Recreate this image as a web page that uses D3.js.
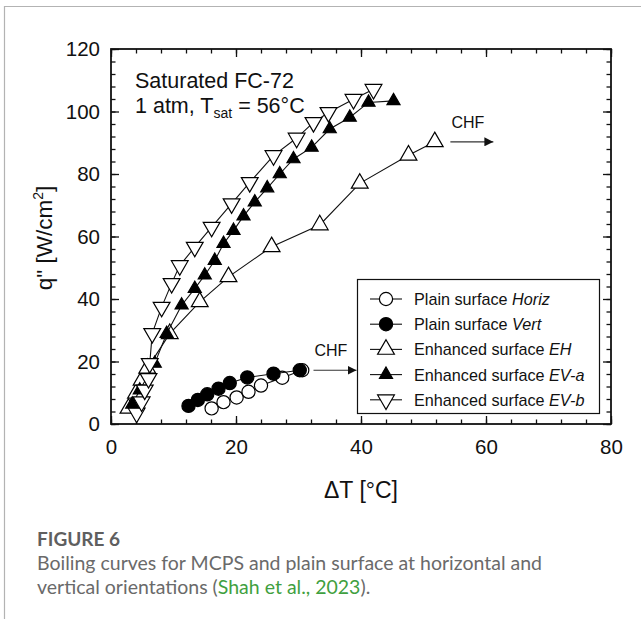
<!DOCTYPE html>
<html lang="en">
<head>
  <meta charset="UTF-8">
  <title>Boiling curves</title>
  <script src="https://cdn.jsdelivr.net/npm/d3@7"></script>
  <style type="text/css">
    body {
        margin: 0;
        padding: 0;
        background: #fff;
        overflow: hidden;
    }
    svg text { font-family: "Liberation Sans", Arial, sans-serif; }
    .caption text { font-family: Lato, "Open Sans", sans-serif; }
  </style>
</head>
<body>
<div id="chart"></div>
<script>
// data: [deltaT, q'']
var plainHoriz = [[16.1,5.0],[18.0,7.0],[20.1,8.5],[22.0,10.3],[24.0,12.3],[27.4,14.8],[30.6,17.2]];
var plainVert  = [[12.4,5.8],[13.9,7.7],[15.4,9.5],[17.2,11.3],[19.0,13.1],[21.8,14.9],[26.0,16.1],[30.2,17.2]];
var enhEH   = [[2.8,5.0],[4.0,9.8],[4.9,14.0],[5.8,17.8],[9.4,28.9],[14.2,39.1],[18.8,47.1],[25.7,56.7],[33.4,63.7],[39.8,77.0],[47.6,86.0],[51.8,90.3]];
var enhEVa  = [[3.4,6.3],[4.6,10.8],[7.0,19.4],[8.9,28.9],[11.3,38.0],[13.4,43.3],[15.0,47.6],[16.6,52.3],[18.0,57.7],[19.6,61.9],[21.2,66.5],[23.0,71.0],[25.0,75.5],[27.0,80.0],[29.2,84.8],[32.1,88.5],[35.0,94.4],[38.2,98.1],[41.2,102.9],[45.2,103.4]];
var enhEVb  = [[4.1,3.5],[4.9,7.1],[5.4,10.9],[6.0,14.6],[6.2,19.4],[6.6,29.0],[8.1,37.4],[9.7,45.0],[11.0,50.7],[13.4,56.6],[16.1,63.0],[19.3,70.5],[22.2,77.3],[26.0,85.9],[29.7,91.5],[32.4,96.5],[34.8,99.7],[38.8,103.9],[42.0,107.1]];
var xTicks = [0, 20, 40, 60, 80];
var yTicks = [0, 20, 40, 60, 80, 100, 120];
var legendNames = ["Plain surface ", "Plain surface ", "Enhanced surface ", "Enhanced surface ", "Enhanced surface "];
var legendTags  = ["Horiz", "Vert", "EH", "EV-a", "EV-b"];
// CHF arrows: start point in data units
var chfMarks = [[54.3, 90.3], [32.4, 17.2]];

var W = 641, H = 619;
var svg = d3.select("#chart").append("svg")
            .attr("width", W).attr("height", H);

// page frame
svg.append("path")
   .attr("d", "M4.5," + H + " L4.5,6.5 L" + W + ",6.5")
   .attr("fill", "none").attr("stroke", "#b3b3b3").attr("stroke-width", 1.2);

var x = d3.scaleLinear().domain([0, 80]).range([111, 611]);
var y = d3.scaleLinear().domain([0, 120]).range([424, 49]);
var minorX = d3.range(0, 81, 4), minorY = d3.range(0, 121, 4);

function addAxis(gen, tr, major, minor, labels) {
  var g = svg.append("g").attr("transform", tr);
  g.call(gen.tickValues(minor).tickSizeInner(-4.5).tickSizeOuter(0).tickFormat(""));
  var g2 = svg.append("g").attr("transform", tr);
  g2.call(gen.tickValues(major).tickSizeInner(-8).tickFormat(labels ? d3.format("d") : ""));
  [g, g2].forEach(function(s) {
    s.select(".domain").remove();
    s.selectAll("line").attr("stroke", "#111").attr("stroke-width", 1.3);
    s.selectAll("text").attr("font-size", 20.5).attr("fill", "#111");
  });
  return g2;
}
addAxis(d3.axisBottom(x).tickPadding(15), "translate(0,424)", xTicks, minorX, true);
addAxis(d3.axisTop(x), "translate(0,49)", xTicks, minorX, false);
addAxis(d3.axisLeft(y).tickPadding(11), "translate(111,0)", yTicks, minorY, true);
addAxis(d3.axisRight(y), "translate(611,0)", yTicks, minorY, false);

svg.append("rect")
   .attr("x", 111).attr("y", 49).attr("width", 500).attr("height", 375)
   .attr("fill", "none").attr("stroke", "#111").attr("stroke-width", 1.8);

// axis titles
svg.append("text").attr("x", 361).attr("y", 498).attr("text-anchor", "middle")
   .attr("font-size", 23).attr("fill", "#111").text("\u0394T [\u00b0C]");
var yl = svg.append("text").attr("transform", "translate(52,238) rotate(-90)")
   .attr("text-anchor", "middle").attr("font-size", 22.5).attr("fill", "#111");
yl.append("tspan").text("q\" [W/cm");
yl.append("tspan").attr("font-size", 14).attr("dy", -9).text("2");
yl.append("tspan").attr("dy", 9).text("]");

// annotation
svg.append("text").attr("x", 135).attr("y", 88).attr("font-size", 21.5).attr("fill", "#111")
   .text("Saturated FC-72");
var t2 = svg.append("text").attr("x", 135).attr("y", 113).attr("font-size", 21.5).attr("fill", "#111");
t2.append("tspan").text("1 atm, T");
t2.append("tspan").attr("font-size", 14).attr("dy", 5).text("sat");
t2.append("tspan").attr("dy", -5).text(" = 56\u00b0C");

// series
var line = d3.line().x(function(d) { return x(d[0]); }).y(function(d) { return y(d[1]); });
var tri = d3.symbol().type(d3.symbolTriangle);

var series = [
  {data: plainHoriz, shape: "circle", fill: "#fff"},
  {data: plainVert,  shape: "circle", fill: "#000"},
  {data: enhEH,  shape: "up",   fill: "#fff", size: 122},
  {data: enhEVa, shape: "up",   fill: "#000", size: 74},
  {data: enhEVb, shape: "down", fill: "#fff", size: 122}
];

function drawMarker(sel, s) {
  if (s.shape === "circle") {
    sel.append("circle").attr("r", 6.6)
       .attr("fill", s.fill).attr("stroke", "#000").attr("stroke-width", 1.2);
  } else {
    sel.append("path").attr("d", tri.size(s.size)())
       .attr("transform", s.shape === "down" ? "rotate(180)" : null)
       .attr("fill", s.fill).attr("stroke", "#000").attr("stroke-width", 1.2);
  }
}

series.forEach(function(s) {
  svg.append("path").datum(s.data).attr("d", line)
     .attr("fill", "none").attr("stroke", "#111").attr("stroke-width", 1.1);
  svg.selectAll(null).data(s.data).enter().append("g")
     .attr("transform", function(d) { return "translate(" + x(d[0]) + "," + y(d[1]) + ")"; })
     .each(function() { drawMarker(d3.select(this), s); });
});

// CHF arrows
svg.append("defs").append("marker").attr("id", "head")
   .attr("viewBox", "0 0 10 10").attr("refX", 10).attr("refY", 5)
   .attr("markerWidth", 9).attr("markerHeight", 9).attr("markerUnits", "userSpaceOnUse")
   .attr("orient", "auto")
   .append("path").attr("d", "M0,0 L10,5 L0,10 Z").attr("fill", "#111");
chfMarks.forEach(function(c) {
  var x0 = x(c[0]), y0 = y(c[1]);
  svg.append("line").attr("x1", x0).attr("y1", y0).attr("x2", x0 + 43).attr("y2", y0)
     .attr("stroke", "#333").attr("stroke-width", 1.2).attr("marker-end", "url(#head)");
  svg.append("text").attr("x", x0 + 1).attr("y", y0 - 14).attr("font-size", 16)
     .attr("fill", "#111").text("CHF");
});

// legend
var lg = svg.append("g");
lg.append("rect").attr("x", 357.5).attr("y", 279.5).attr("width", 242).attr("height", 134)
  .attr("fill", "#fff").attr("stroke", "#111").attr("stroke-width", 1.2);
series.forEach(function(s, i) {
  var ly = 299 + i * 25.2;
  lg.append("line").attr("x1", 370).attr("x2", 402).attr("y1", ly).attr("y2", ly)
    .attr("stroke", "#111").attr("stroke-width", 1.1);
  drawMarker(lg.append("g").attr("transform", "translate(386," + ly + ")"), s);
  var t = lg.append("text").attr("x", 414).attr("y", ly + 6).attr("font-size", 16.2).attr("fill", "#111");
  t.append("tspan").text(legendNames[i]);
  t.append("tspan").attr("font-style", "italic").text(legendTags[i]);
});

// caption
var cap = svg.append("g").attr("class", "caption");
cap.append("text").attr("x", 37).attr("y", 546).attr("font-size", 19).attr("font-weight", 700)
   .attr("fill", "#5f5f5f").text("FIGURE 6");
cap.append("text").attr("x", 37).attr("y", 570).attr("font-size", 19.5).attr("fill", "#6a6a6a")
   .text("Boiling curves for MCPS and plain surface at horizontal and");
var c2 = cap.append("text").attr("x", 37).attr("y", 594).attr("font-size", 19.5).attr("fill", "#6a6a6a");
c2.append("tspan").text("vertical orientations (");
c2.append("tspan").attr("fill", "#3fa040").text("Shah et al., 2023");
c2.append("tspan").text(").");
</script>
</body>
</html>
